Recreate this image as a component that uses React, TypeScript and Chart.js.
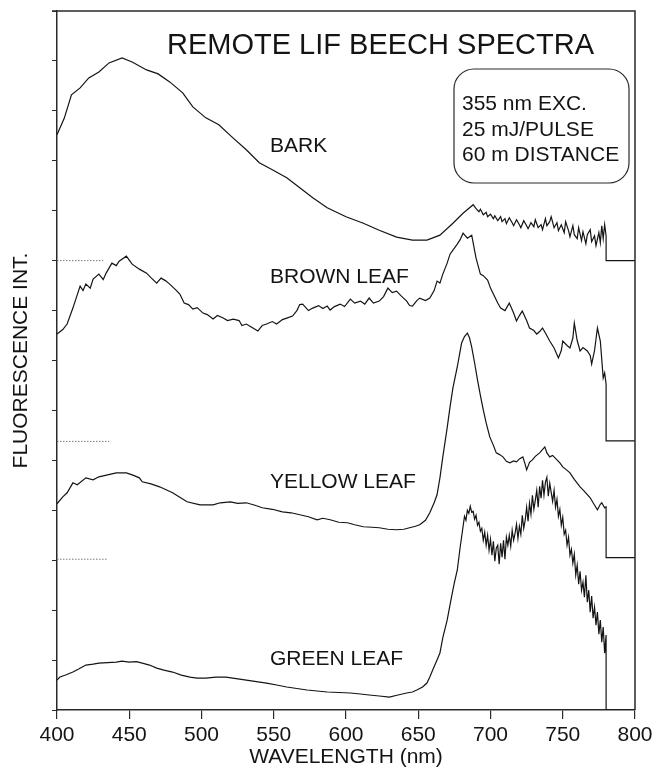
import React, { useEffect, useRef } from "react";
import { Chart, registerables } from "chart.js";

Chart.register(...registerables);

type Pt = [number, number];

// ---- axis settings ----
const X_TICKS = [400, 450, 500, 550, 600, 650, 700, 750, 800];
const X_MIN = 400;
const X_MAX = 800;
const Y_MIN = 0;
const Y_MAX = 14;

// ---- spectra: [wavelength nm, offset intensity] ----
const BARK: Pt[] = [
  [400, 11.52], [405, 11.85], [410, 12.32], [416, 12.46], [422, 12.66], [429, 12.78], [436, 12.96],
  [445, 13.06], [452, 12.98], [462, 12.82], [470, 12.74], [478, 12.58], [487, 12.36], [494, 12.08],
  [503, 11.86], [512, 11.72], [521, 11.48], [531, 11.22], [540, 10.96], [549, 10.82], [559, 10.66],
  [568, 10.46], [577, 10.26], [587, 10.06], [600, 9.88], [612, 9.75], [623, 9.61], [635, 9.47],
  [646, 9.41], [656, 9.41], [665, 9.51], [674, 9.75], [681, 9.95], [688, 10.12],
  [690, 10.04], [692, 9.98], [693, 10.03], [695, 9.92], [697, 9.97], [698, 9.88], [700, 9.93],
  [702, 9.84], [703, 9.90], [705, 9.80], [707, 9.88], [708, 9.78], [710, 9.84], [711, 9.74],
  [713, 9.86], [715, 9.76], [716, 9.70], [718, 9.82], [720, 9.72], [721, 9.66], [723, 9.80],
  [725, 9.70], [726, 9.64], [728, 9.76], [730, 9.68], [731, 9.82], [733, 9.66], [735, 9.72],
  [736, 9.62], [738, 9.84], [739, 9.70], [741, 9.78], [742, 9.88], [744, 9.66], [746, 9.76],
  [747, 9.60], [749, 9.72], [751, 9.56], [752, 9.78], [754, 9.60], [755, 9.48], [757, 9.70],
  [758, 9.52], [760, 9.44], [761, 9.66], [763, 9.40], [764, 9.58], [766, 9.34], [767, 9.52],
  [769, 9.62], [770, 9.38], [772, 9.50], [773, 9.30], [775, 9.56], [776, 9.36], [777, 9.70],
  [778, 9.44], [779, 9.72], [780, 9.50], [780, 9.0], [800, 9.0],
];

const BROWN_LEAF: Pt[] = [
  [400, 7.53], [404, 7.62], [407, 7.73], [411, 8.05], [416, 8.49], [418, 8.40], [420, 8.53],
  [423, 8.45], [425, 8.63], [429, 8.73], [432, 8.62], [434, 8.75], [438, 8.95], [441, 8.90],
  [443, 8.99], [448, 9.09], [452, 8.93], [457, 8.83], [462, 8.75], [465, 8.66], [469, 8.55],
  [472, 8.65], [475, 8.60], [478, 8.53], [482, 8.42], [485, 8.33], [488, 8.15], [491, 8.12],
  [494, 8.03], [497, 8.06], [501, 7.95], [504, 7.92], [508, 7.83], [511, 7.90], [515, 7.85],
  [518, 7.80], [522, 7.83], [526, 7.80], [528, 7.70], [531, 7.73], [535, 7.66], [539, 7.59],
  [542, 7.70], [545, 7.73], [549, 7.78], [552, 7.73], [556, 7.82], [559, 7.85], [563, 7.89],
  [566, 8.00], [568, 8.12], [570, 8.13], [574, 8.00], [577, 8.05], [581, 8.10], [584, 8.04],
  [587, 8.09], [589, 8.01], [592, 8.08], [596, 8.13], [599, 8.08], [603, 8.23], [606, 8.15],
  [610, 8.19], [613, 8.13], [616, 8.25], [619, 8.15], [623, 8.19], [626, 8.28], [629, 8.45],
  [632, 8.36], [635, 8.39], [638, 8.30], [642, 8.19], [644, 8.10], [646, 8.09], [649, 8.20],
  [651, 8.25], [655, 8.20], [658, 8.25], [661, 8.40], [663, 8.59], [665, 8.55], [667, 8.73],
  [670, 8.95], [672, 9.13], [675, 9.25], [677, 9.33], [679, 9.42], [681, 9.55], [684, 9.45],
  [687, 9.51], [690, 9.05], [693, 8.73], [695, 8.70], [698, 8.61], [700, 8.45], [702, 8.33],
  [705, 8.15], [707, 8.05], [710, 8.00], [713, 8.15], [716, 7.95], [718, 7.79], [720, 7.90],
  [722, 7.99], [725, 7.80], [727, 7.65], [730, 7.60], [732, 7.53], [734, 7.58], [736, 7.65],
  [738, 7.55], [741, 7.39], [744, 7.25], [747, 7.05], [749, 7.20], [750, 7.39], [753, 7.30],
  [755, 7.25], [757, 7.45], [758, 7.75], [760, 7.40], [762, 7.19], [764, 7.26], [767, 7.19],
  [769, 7.10], [770, 6.93], [772, 7.20], [774, 7.65], [776, 7.39], [778, 6.65], [779, 6.75],
  [780, 6.53], [780, 5.39], [800, 5.39],
];

const YELLOW_LEAF: Pt[] = [
  [400, 4.13], [404, 4.27], [407, 4.35], [411, 4.55], [414, 4.51], [420, 4.65], [425, 4.61],
  [429, 4.67], [435, 4.71], [441, 4.75], [448, 4.75], [453, 4.70], [457, 4.65], [459, 4.57],
  [465, 4.53], [471, 4.47], [480, 4.35], [485, 4.26], [490, 4.17], [499, 4.11], [508, 4.11],
  [513, 4.15], [520, 4.17], [525, 4.14], [531, 4.15], [537, 4.10], [542, 4.05], [549, 4.02],
  [556, 3.97], [562, 3.95], [568, 3.91], [574, 3.87], [580, 3.81], [584, 3.84], [589, 3.81],
  [595, 3.76], [601, 3.75], [606, 3.71], [612, 3.67], [618, 3.66], [623, 3.65], [629, 3.62],
  [635, 3.61], [640, 3.62], [644, 3.65], [648, 3.68], [651, 3.71], [655, 3.80], [658, 3.95],
  [661, 4.15], [663, 4.31], [665, 4.65], [667, 5.07], [670, 5.65], [672, 6.07], [674, 6.45],
  [677, 6.87], [680, 7.35], [682, 7.48], [684, 7.55], [685.5, 7.45], [687, 7.27], [689, 6.95],
  [691, 6.61], [693, 6.30], [695, 6.01], [697, 5.75], [699.5, 5.47], [702, 5.30], [704, 5.15],
  [706, 5.12], [708.6, 5.07], [711, 4.98], [713.4, 4.95], [716, 4.99], [718, 4.97], [720, 5.03],
  [722.4, 5.07], [724, 4.92], [725, 4.81], [727, 4.96], [729, 5.01], [731, 5.08], [734, 5.15],
  [737.6, 5.27], [739, 5.15], [741, 5.07], [743, 5.10], [746, 5.01], [748, 4.95], [750, 4.87],
  [753, 4.80], [755, 4.75], [758, 4.62], [762, 4.47], [765, 4.38], [769, 4.25], [771, 4.15],
  [774, 4.01], [776, 4.12], [777, 4.15], [779, 4.05], [780, 4.07], [780, 3.05], [800, 3.05],
];

const GREEN_LEAF: Pt[] = [
  [400, 0.60], [402, 0.66], [406, 0.70], [411, 0.76], [415, 0.82], [420, 0.90], [425, 0.92],
  [429, 0.94], [435, 0.95], [441, 0.96], [445, 0.98], [450, 0.96], [455, 0.97], [459, 0.94],
  [464, 0.90], [469, 0.84], [474, 0.80], [480, 0.76], [486, 0.70], [492, 0.66], [497, 0.64],
  [503, 0.64], [510, 0.66], [517, 0.66], [524, 0.63], [531, 0.60], [538, 0.57], [545, 0.54],
  [552, 0.50], [559, 0.46], [566, 0.43], [573, 0.40], [580, 0.38], [587, 0.36], [595, 0.35],
  [603, 0.34], [610, 0.32], [616, 0.30], [623, 0.28], [630, 0.26], [636, 0.30], [642, 0.34],
  [646, 0.36], [649, 0.40], [653, 0.46], [656, 0.54], [658, 0.66], [660, 0.80], [663, 1.00],
  [665, 1.14], [667, 1.45], [670, 1.80], [673, 2.26], [675, 2.55], [677, 2.80], [679, 3.26],
  [681, 3.67], [682, 3.88], [683, 3.80], [684, 4.00], [685, 3.94], [686, 4.08], [687, 3.96],
  [688, 3.98], [689, 3.82], [690, 3.90], [691, 3.70], [692, 3.76], [693, 3.58], [694, 3.64],
  [695, 3.40], [696, 3.56], [697, 3.30], [698, 3.50], [699, 3.20], [700, 3.42], [701, 3.10],
  [702, 3.38], [703, 2.98], [704, 3.24], [705, 3.30], [706, 2.92], [707, 3.34], [708, 3.06],
  [709, 3.40], [710, 3.02], [711, 3.46], [712, 3.30], [713, 3.50], [714, 3.28], [715, 3.60],
  [716, 3.40], [717, 3.54], [718, 3.72], [719, 3.44], [720, 3.68], [721, 3.52], [722, 3.90],
  [723, 3.64], [724, 3.80], [725, 4.06], [726, 3.78], [727, 4.14], [728, 3.92], [729, 4.30],
  [730, 4.02], [731, 4.20], [732, 4.40], [733, 4.06], [734, 4.48], [735, 4.24], [736, 4.60],
  [737, 4.30], [738, 4.56], [739, 4.66], [740, 4.28], [741, 4.54], [742, 4.36], [743, 4.18],
  [744, 4.40], [745, 4.06], [746, 4.22], [747, 3.88], [748, 4.02], [749, 3.70], [750, 3.86],
  [751, 3.52], [752, 3.60], [753, 3.30], [754, 3.46], [755, 3.10], [756, 3.22], [757, 2.94],
  [758, 3.12], [759, 2.70], [760, 2.90], [761, 2.52], [762, 2.78], [763, 2.40], [764, 2.56],
  [765, 2.26], [766, 2.70], [767, 2.16], [768, 2.40], [769, 1.96], [770, 2.28], [771, 1.84],
  [772, 2.06], [773, 1.70], [774, 1.96], [775, 1.52], [776, 1.80], [777, 1.36], [778, 1.66],
  [779, 1.14], [780, 1.50], [780, 0], [800, 0],
];

// dotted zero-level markers: [level, end wavelength]
const BASELINES: Pt[] = [
  [9.0, 432],
  [5.38, 436],
  [3.02, 435],
];

const SERIES_NAMES = ["BARK", "BROWN LEAF", "YELLOW LEAF", "GREEN LEAF"];
const SERIES_DATA: Pt[][] = [BARK, BROWN_LEAF, YELLOW_LEAF, GREEN_LEAF];

const CHART_TITLE = "REMOTE LIF BEECH SPECTRA";
const INFO_LINES = ["355 nm EXC.", "25 mJ/PULSE", "60 m DISTANCE"];
const X_TITLE = "WAVELENGTH (nm)";
const Y_TITLE = "FLUORESCENCE INT.";

const FAMILY = '"Liberation Sans", Arial, Helvetica, sans-serif';
const INK = "#141414";
const AXIS = "#2a2a2a";

const annotations = {
  id: "annotations",
  afterDatasetsDraw(chart: any) {
    const { ctx, chartArea } = chart;
    ctx.save();
    // frame top/right
    ctx.strokeStyle = AXIS;
    ctx.lineWidth = 1.5;
    ctx.beginPath();
    ctx.moveTo(chartArea.left - 5, chartArea.top);
    ctx.lineTo(chartArea.right, chartArea.top);
    ctx.lineTo(chartArea.right, chartArea.bottom);
    ctx.stroke();

    ctx.fillStyle = INK;
    ctx.textBaseline = "alphabetic";
    ctx.textAlign = "left";
    ctx.font = `29px ${FAMILY}`;
    ctx.fillText(CHART_TITLE, 167, 54);

    ctx.font = `21px ${FAMILY}`;
    const labelY = [152, 283, 488, 665];
    SERIES_NAMES.forEach((n, i) => ctx.fillText(n, 270, labelY[i]));

    // info box
    ctx.lineWidth = 1.2;
    ctx.strokeStyle = AXIS;
    ctx.beginPath();
    (ctx as any).roundRect(454, 69, 175, 114, 20);
    ctx.stroke();
    const infoY = [110, 136, 161];
    INFO_LINES.forEach((t, i) => ctx.fillText(t, 462, infoY[i]));
    ctx.restore();
  },
};

export default function App() {
  const ref = useRef<HTMLCanvasElement | null>(null);

  useEffect(() => {
    if (!ref.current) return;
    const datasets: any[] = SERIES_DATA.map((s, i) => ({
      label: SERIES_NAMES[i],
      data: s.map(([x, y]) => ({ x, y })),
      borderColor: INK,
      borderWidth: 1.2,
      pointRadius: 0,
      tension: 0,
      fill: false,
    }));
    BASELINES.forEach(([lvl, end]) => {
      datasets.push({
        label: "zero",
        data: [
          { x: X_MIN, y: lvl },
          { x: end, y: lvl },
        ],
        borderColor: "#777",
        borderWidth: 1,
        borderDash: [1.5, 1.5],
        pointRadius: 0,
        fill: false,
      });
    });

    const chart = new Chart(ref.current, {
      type: "line",
      data: { datasets },
      plugins: [annotations],
      options: {
        animation: false,
        responsive: false,
        layout: { padding: { top: 11, right: 22, bottom: 0, left: 0 } },
        plugins: { legend: { display: false }, tooltip: { enabled: false } },
        scales: {
          x: {
            type: "linear",
            min: X_MIN,
            max: X_MAX,
            afterBuildTicks: (s: any) => {
              s.ticks = X_TICKS.map((v) => ({ value: v }));
            },
            afterFit: (s: any) => {
              s.height = 58;
            },
            ticks: {
              autoSkip: false,
              maxRotation: 0,
              padding: 4,
              color: INK,
              font: { size: 21, family: FAMILY },
            },
            grid: {
              drawOnChartArea: false,
              drawTicks: true,
              tickLength: 9,
              color: AXIS,
              lineWidth: 1.2,
            },
            border: { display: true, color: AXIS, width: 1.5 },
            title: {
              display: true,
              text: X_TITLE,
              color: INK,
              font: { size: 21, family: FAMILY, lineHeight: 1 },
              padding: { top: 0, bottom: 0 },
            },
          },
          y: {
            type: "linear",
            min: Y_MIN,
            max: Y_MAX,
            afterFit: (s: any) => {
              s.width = 57;
            },
            ticks: { stepSize: 1, display: false },
            grid: {
              drawOnChartArea: false,
              drawTicks: true,
              tickLength: 5,
              color: AXIS,
              lineWidth: 1,
            },
            border: { display: true, color: AXIS, width: 1.5 },
            title: {
              display: true,
              text: Y_TITLE,
              color: INK,
              font: { size: 21, family: FAMILY, lineHeight: 1 },
              padding: { top: 10.5, bottom: 0 },
            },
          },
        },
      } as any,
    });
    return () => chart.destroy();
  }, []);

  return (
    <div style={{ position: "fixed", left: 0, top: 0, width: 657, height: 768, background: "#fff" }}>
      <canvas ref={ref} width={657} height={768} style={{ width: 657, height: 768, display: "block" }} />
    </div>
  );
}
